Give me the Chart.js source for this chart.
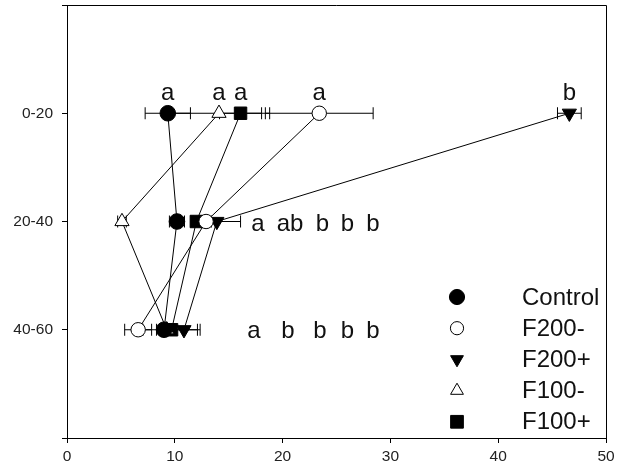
<!DOCTYPE html>
<html>
<head>
<meta charset="utf-8">
<script src="https://cdn.jsdelivr.net/npm/chart.js@4/dist/chart.umd.min.js"></script>
<style>
  html, body { margin: 0; padding: 0; background: #fff; }
</style>
</head>
<body>
<canvas id="depthChart" width="620" height="468"></canvas>
<script>
// depth layers on the y axis (top to bottom)
const depthLabels = ["0-20", "20-40", "40-60"];
const depthPos = [1, 2, 3];
const xTicks = [0, 10, 20, 30, 40, 50];

const seriesNames = ["Control", "F200-", "F200+", "F100-", "F100+"];

const controlVals = [9.35, 10.2, 9.0];
const controlErr = [2.1, 0.7, 0.7];
const f200mVals = [23.4, 12.9, 6.6];
const f200mErr = [5.0, 0.5, 1.25];
const f200pVals = [46.6, 13.9, 10.85];
const f200pErr = [1.1, 2.2, 1.25];
const f100mVals = [14.1, 5.1, 9.25];
const f100mErr = [4.7, 0.4, 0.5];
const f100pVals = [16.1, 12.0, 9.7];
const f100pErr = [1.95, 0.5, 2.65];

// significance letters: top row per series, then per row
const lettersTop = ["a", "a", "b", "a", "a"];
const lettersMid = ["a", "ab", "b", "b", "b"];
const lettersLow = ["a", "b", "b", "b", "b"];

const allVals = [controlVals, f200mVals, f200pVals, f100mVals, f100pVals];
const allErr = [controlErr, f200mErr, f200pErr, f100mErr, f100pErr];

const markers = [
    { style: "circle", radius: 7.8, fill: "#000", rot: 0 },
    { style: "circle", radius: 7.2, fill: "#fff", rot: 0 },
    { style: "triangle", radius: 8.2, fill: "#000", rot: 180 },
    { style: "triangle", radius: 8.2, fill: "#fff", rot: 0 },
    { style: "rect", radius: 8.8, fill: "#000", rot: 0 }
];

const FONT = "'Liberation Sans', Arial, Helvetica, sans-serif";

function drawMarker(ctx, m, x, y, r) {
    ctx.save();
    ctx.fillStyle = m.fill;
    ctx.strokeStyle = "#000";
    ctx.lineWidth = 1;
    if (Chart.helpers && Chart.helpers.drawPoint) {
        Chart.helpers.drawPoint(ctx, { pointStyle: m.style, radius: r, rotation: m.rot, borderWidth: 1 }, x, y);
    }
    ctx.restore();
}

const errorBars = {
    id: "errorBars",
    beforeDatasetsDraw(chart) {
        const ctx = chart.ctx;
        const xs = chart.scales.x, ys = chart.scales.y;
        ctx.save();
        ctx.strokeStyle = "#000";
        ctx.lineWidth = 1;
        allVals.forEach((vals, i) => {
            vals.forEach((v, j) => {
                const e = allErr[i][j];
                const y = ys.getPixelForValue(depthPos[j]);
                const x1 = xs.getPixelForValue(v - e);
                const x2 = xs.getPixelForValue(v + e);
                ctx.beginPath();
                ctx.moveTo(x1, y); ctx.lineTo(x2, y);
                ctx.moveTo(x1, y - 6); ctx.lineTo(x1, y + 6);
                ctx.moveTo(x2, y - 6); ctx.lineTo(x2, y + 6);
                ctx.stroke();
            });
        });
        ctx.restore();
    }
};

const annotations = {
    id: "annotations",
    afterDraw(chart) {
        const ctx = chart.ctx;
        const area = chart.chartArea;
        const xs = chart.scales.x, ys = chart.scales.y;
        ctx.save();
        // frame top and right
        ctx.strokeStyle = "#000";
        ctx.lineWidth = 1;
        ctx.beginPath();
        ctx.moveTo(area.left, area.top + 0.5);
        ctx.lineTo(area.right + 0.5, area.top + 0.5);
        ctx.lineTo(area.right + 0.5, area.bottom);
        ctx.stroke();

        ctx.fillStyle = "#111";
        ctx.font = "24px " + FONT;
        ctx.textAlign = "center";
        ctx.textBaseline = "alphabetic";

        // letters above the first row markers
        const yTop = ys.getPixelForValue(depthPos[0]);
        lettersTop.forEach((t, i) => {
            ctx.fillText(t, xs.getPixelForValue(allVals[i][0]), yTop - 13);
        });
        // letters to the right of rows 2 and 3
        const midX = [191, 223, 255.5, 280.5, 306];
        const lowX = [187, 221, 253, 280.5, 306];
        const yMid = ys.getPixelForValue(depthPos[1]);
        const yLow = ys.getPixelForValue(depthPos[2]);
        lettersMid.forEach((t, i) => ctx.fillText(t, area.left + midX[i], yMid + 9.5));
        lettersLow.forEach((t, i) => ctx.fillText(t, area.left + lowX[i], yLow + 8.5));

        // legend
        ctx.textAlign = "left";
        ctx.textBaseline = "middle";
        const legR = [7.6, 6.6, 7.4, 7.4, 9];
        seriesNames.forEach((name, i) => {
            const ly = 297 + i * 31.2;
            drawMarker(ctx, markers[i], 457, ly, legR[i]);
            ctx.fillStyle = "#111";
            ctx.fillText(name, 522, ly + 1);
        });
        ctx.restore();
    }
};

const datasets = allVals.map((vals, i) => ({
    label: seriesNames[i],
    data: vals.map((v, j) => ({ x: v, y: depthPos[j] })),
    showLine: true,
    borderColor: "#000",
    borderWidth: 1,
    tension: 0,
    pointStyle: markers[i].style,
    pointRadius: markers[i].radius,
    pointRotation: markers[i].rot,
    pointBackgroundColor: markers[i].fill,
    pointBorderColor: "#000",
    pointBorderWidth: 1,
    clip: false
}));

new Chart(document.getElementById("depthChart"), {
    type: "scatter",
    data: { datasets: datasets },
    options: {
        responsive: false,
        animation: false,
        devicePixelRatio: 1,
        layout: { autoPadding: false, padding: { top: 5, right: 14, left: 0, bottom: 0 } },
        plugins: {
            legend: { display: false },
            tooltip: { enabled: false }
        },
        scales: {
            x: {
                type: "linear",
                min: 0,
                max: 50,
                afterBuildTicks: (s) => { s.ticks = xTicks.map(v => ({ value: v })); },
                afterFit: (s) => { s.height = 30; s.paddingLeft = 0; s.paddingRight = 0; },
                grid: { drawOnChartArea: false, tickLength: 5, color: "#000" },
                border: { color: "#000" },
                ticks: { color: "#222", padding: 4, font: { family: FONT, size: 15.5 } }
            },
            y: {
                type: "linear",
                reverse: true,
                min: 0,
                max: 4,
                afterBuildTicks: (s) => { s.ticks = [0, 1, 2, 3, 4].map(v => ({ value: v })); },
                afterFit: (s) => { s.width = 67; s.paddingTop = 0; s.paddingBottom = 0; },
                grid: { drawOnChartArea: false, tickLength: 5, color: "#000" },
                border: { color: "#000" },
                ticks: {
                    color: "#222",
                    padding: 9,
                    font: { family: FONT, size: 15.5 },
                    callback: (v) => depthLabels[depthPos.indexOf(v)] || ""
                }
            }
        }
    },
    plugins: [errorBars, annotations]
});
</script>
</body>
</html>
